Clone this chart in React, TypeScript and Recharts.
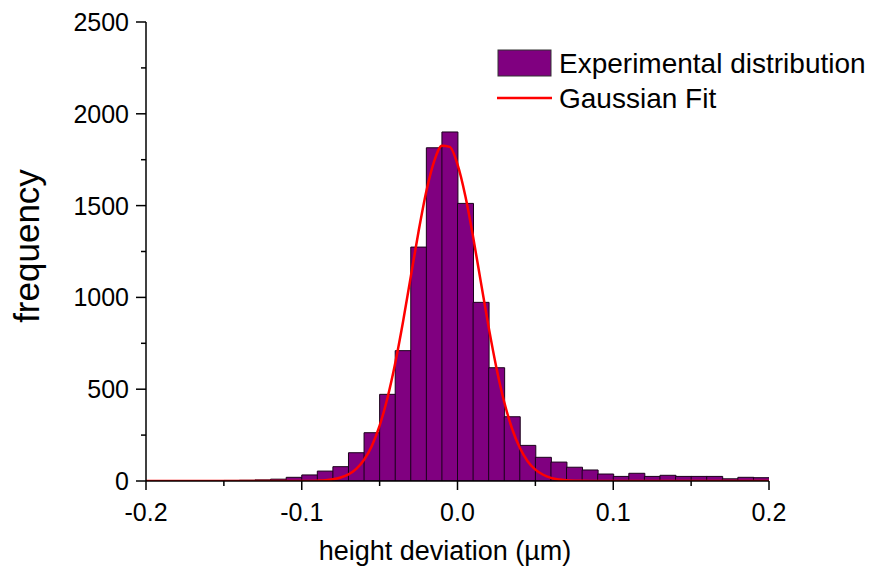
import { ComposedChart, Bar, Line, XAxis, YAxis, Legend } from 'recharts';

// histogram bins (centre of each 0.01 bin) and counts
const binCenters = [
  -0.195, -0.185, -0.175, -0.165, -0.155, -0.145, -0.135, -0.125, -0.115, -0.105,
  -0.095, -0.085, -0.075, -0.065, -0.055, -0.045, -0.035, -0.025, -0.015, -0.005,
  0.005, 0.015, 0.025, 0.035, 0.045, 0.055, 0.065, 0.075, 0.085, 0.095,
  0.105, 0.115, 0.125, 0.135, 0.145, 0.155, 0.165, 0.175, 0.185, 0.195,
];
const counts = [
  1, 1, 1, 2, 2, 3, 4, 6, 10, 20,
  33, 54, 78, 154, 263, 472, 710, 1274, 1815, 1901,
  1512, 973, 617, 350, 194, 129, 103, 75, 60, 38,
  25, 42, 25, 31, 25, 25, 25, 12, 20, 18,
];

// gaussian fit curve
const fitX = [
  -0.2, -0.15, -0.12, -0.1, -0.09, -0.085, -0.08, -0.075, -0.07, -0.065,
  -0.06, -0.055, -0.05, -0.045, -0.04, -0.035, -0.03, -0.025, -0.02, -0.015,
  -0.01, -0.005, 0, 0.005, 0.01, 0.015, 0.02, 0.025, 0.03, 0.035,
  0.04, 0.045, 0.05, 0.055, 0.06, 0.065, 0.07, 0.08, 0.09, 0.1, 0.15, 0.2,
];
const fitY = [
  0, 0, 0, 0, 2, 4, 9, 19, 36, 66,
  116, 191, 301, 451, 641, 866, 1113, 1359, 1578, 1741,
  1826, 1820, 1725, 1554, 1331, 1083, 838, 616, 430, 286,
  181, 108, 62, 34, 17, 8, 4, 1, 0, 0, 0, 0,
];

const xTicks = [-0.2, -0.15, -0.1, -0.05, 0, 0.05, 0.1, 0.15, 0.2];
const yTicks = [0, 250, 500, 750, 1000, 1250, 1500, 1750, 2000, 2250, 2500];

const FONT = '"Liberation Sans", Arial, sans-serif';

const histData = binCenters.map((x, i) => ({ x, count: counts[i] }));
const fitData = fitX.map((x, i) => ({ x, fit: fitY[i] }));

const XTick = (props: any) => {
  const { x, y, payload } = props;
  const v = payload.value;
  const major = Math.abs(v * 10 - Math.round(v * 10)) < 1e-6;
  return (
    <g>
      <line x1={x} x2={x} y1={y} y2={y + (major ? 9 : 5)} stroke="#000" strokeWidth={1.5} />
      {major && (
        <text x={x} y={y + 40} textAnchor="middle" fontSize={25} fontFamily={FONT} fill="#000">
          {v.toFixed(1)}
        </text>
      )}
    </g>
  );
};

const YTick = (props: any) => {
  const { x, y, payload } = props;
  const v = payload.value;
  const major = v % 500 === 0;
  return (
    <g>
      <line x1={x} x2={x - (major ? 10 : 5)} y1={y} y2={y} stroke="#000" strokeWidth={1.5} />
      {major && (
        <text x={x - 17} y={y + 9} textAnchor="end" fontSize={25} fontFamily={FONT} fill="#000">
          {v}
        </text>
      )}
    </g>
  );
};

const LegendBox = () => (
  <svg width={390} height={80} style={{ display: 'block' }}>
    <rect x={4} y={10} width={53} height={26} fill="#800080" stroke="#333" strokeWidth={1} />
    <text x={65} y={33} fontSize={28} fontFamily={FONT} fill="#000">Experimental distribution</text>
    <line x1={3} x2={58} y1={58} y2={58} stroke="#ff0000" strokeWidth={2.5} />
    <text x={65} y={68} fontSize={28} fontFamily={FONT} fill="#000">Gaussian Fit</text>
  </svg>
);

export default function App() {
  return (
    <div style={{ position: 'absolute', left: 0, top: 0, background: '#fff' }}>
      <ComposedChart
        width={884}
        height={575}
        data={histData}
        margin={{ top: 22, right: 115, bottom: 0, left: 86 }}
        barCategoryGap={0}
        barGap={0}
      >
        <XAxis
          dataKey="x"
          type="number"
          domain={[-0.2, 0.2]}
          ticks={xTicks}
          allowDataOverflow
          interval={0}
          height={94}
          tickSize={0}
          tickMargin={0}
          tick={<XTick />}
          tickLine={false}
          axisLine={{ stroke: '#000', strokeWidth: 1.5 }}
          label={{
            content: () => (
              <text x={445} y={560} textAnchor="middle" fontSize={27} fontFamily={FONT} fill="#000">
                height deviation (µm)
              </text>
            ),
          }}
        />
        {/* separate hidden axis for the fit so its finer sampling does not shrink the bins */}
        <XAxis
          xAxisId="fit"
          dataKey="x"
          type="number"
          domain={[-0.2, 0.2]}
          allowDataOverflow
          hide
        />
        <YAxis
          type="number"
          domain={[0, 2500]}
          ticks={yTicks}
          allowDataOverflow
          interval={0}
          width={60}
          tickSize={0}
          tickMargin={0}
          tick={<YTick />}
          tickLine={false}
          axisLine={{ stroke: '#000', strokeWidth: 1.5 }}
          label={{
            content: () => (
              <text
                x={39}
                y={246}
                textAnchor="middle"
                fontSize={35}
                fontFamily={FONT}
                fill="#000"
                transform="rotate(-90, 39, 246)"
              >
                frequency
              </text>
            ),
          }}
        />
        <Legend
          verticalAlign="middle"
          layout="horizontal"
          content={<LegendBox />}
          wrapperStyle={{ position: 'absolute', left: 494, top: 40, width: 390, height: 80 }}
        />
        <Bar
          dataKey="count"
          fill="#800080"
          stroke="#1a001a"
          strokeWidth={1}
          isAnimationActive={false}
        />
        <Line
          xAxisId="fit"
          data={fitData}
          dataKey="fit"
          type="monotone"
          stroke="#ff0000"
          strokeWidth={2.5}
          dot={false}
          activeDot={false}
          isAnimationActive={false}
        />
      </ComposedChart>
    </div>
  );
}
